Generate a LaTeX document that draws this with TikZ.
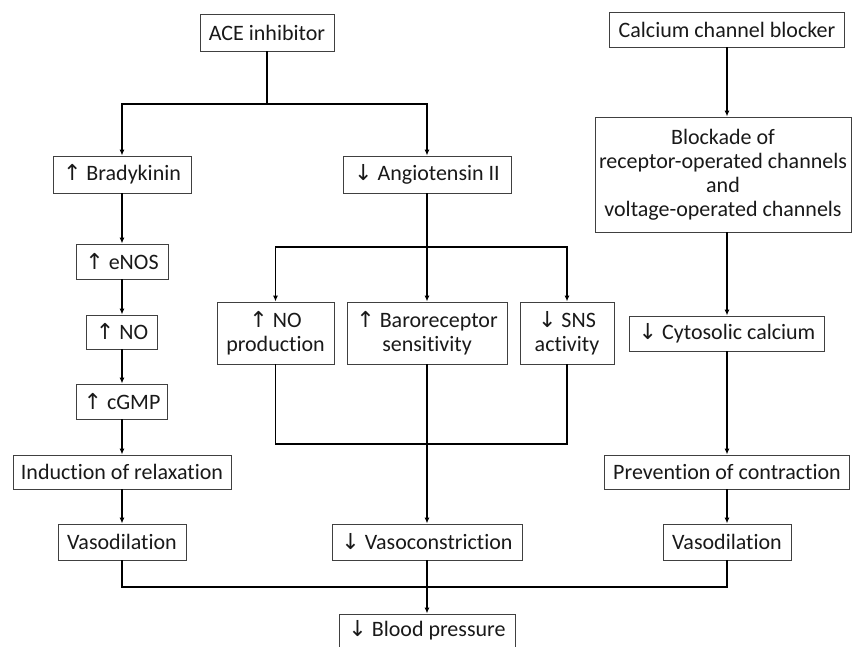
\documentclass[tikz,border=0pt]{standalone}
\usepackage{fontspec}
\setmainfont{Carlito}[Ligatures=NoCommon]
\newfontfamily\panahfont{DejaVu Sans}
\usetikzlibrary{arrows.meta}
\newcommand{\naik}{{\panahfont\char"2191}}
\newcommand{\turun}{{\panahfont\char"2193}}

\begin{document}
\begin{tikzpicture}[
    x=1pt, y=-1pt,
    font=\fontsize{22}{24}\selectfont,
    kotak/.style={draw=black!75, line width=0.9pt, align=center,
                  inner sep=2pt, text=black!90},
    garis/.style={line width=1.2pt},
    panah/.style={garis, -{Latex[length=6pt,width=5pt]}}
  ]
    \useasboundingbox (0,0) rectangle (852,646);
    % kolom ACE inhibitor
    \node[kotak, minimum width=134pt, minimum height=37pt] (ace) at (267,32.5) {ACE inhibitor};
    \node[kotak, minimum width=138pt, minimum height=37pt] (brady) at (122,174.5) {\naik\ Bradykinin};
    \node[kotak, minimum width=168pt, minimum height=37pt] (ang) at (427,174.5) {\turun\ Angiotensin II};
    \node[kotak, minimum width=92pt, minimum height=35pt] (enos) at (122,261.5) {\naik\ eNOS};
    \node[kotak, minimum width=71pt, minimum height=34pt] (no) at (122,332) {\naik\ NO};
    \node[kotak, minimum width=91pt, minimum height=35pt] (cgmp) at (122,401.5) {\naik\ cGMP};
    \node[kotak, minimum width=218pt, minimum height=34pt] (induksi) at (122,472) {Induction of relaxation};
    \node[kotak, minimum width=128pt, minimum height=36pt] (vasol) at (122,542) {Vasodilation};
    \node[kotak, minimum width=117pt, minimum height=62pt] (noprod) at (275.5,333) {\naik\ NO\\production};
    \node[kotak, minimum width=160pt, minimum height=62pt] (baro) at (427,333) {\naik\ Baroreceptor\\sensitivity};
    \node[kotak, minimum width=94pt, minimum height=62pt] (sns) at (567,333) {\turun\ SNS\\activity};
    \node[kotak, minimum width=190pt, minimum height=36pt] (vasoc) at (427,542) {\turun\ Vasoconstriction};
    \node[kotak, minimum width=176pt, minimum height=33pt] (bp) at (427,630.5) {\turun\ Blood pressure};
    % kolom calcium channel blocker
    \node[kotak, minimum width=235pt, minimum height=35pt] (ccb) at (727,29.5) {Calcium channel blocker};
    \node[kotak, minimum width=256pt, minimum height=115pt] (blokade) at (723,174.5)
      {Blockade of\\receptor-operated channels\\and\\voltage-operated channels};
    \node[kotak, minimum width=195pt, minimum height=35pt] (sito) at (727,333.5) {\turun\ Cytosolic calcium};
    \node[kotak, minimum width=245pt, minimum height=34pt] (prev) at (727,472) {Prevention of contraction};
    \node[kotak, minimum width=128pt, minimum height=36pt] (vasor) at (727,542) {Vasodilation};
    % titik cabang
    \coordinate (cabang1) at (267,104);
    \coordinate (cabang2) at (427,247);
    \coordinate (gabung1) at (427,444);
    \coordinate (gabung2) at (427,587);
    % penghubung
    \draw[garis] (ace) -- (cabang1);
    \draw[panah] (cabang1) -| (brady);
    \draw[panah] (cabang1) -| (ang);
    \draw[panah] (brady) -- (enos);
    \draw[panah] (enos) -- (no);
    \draw[panah] (no) -- (cgmp);
    \draw[panah] (cgmp) -- (induksi);
    \draw[panah] (induksi) -- (vasol);
    \draw[garis] (ang) -- (cabang2);
    \draw[panah] (cabang2) -| (noprod);
    \draw[panah] (cabang2) -| (sns);
    \draw[panah] (cabang2) -- (baro);
    \draw[garis] (noprod) |- (gabung1) -| (sns);
    \draw[panah] (baro) -- (vasoc);
    \draw[panah] (ccb) -- (ccb |- blokade.north);
    \draw[panah] (sito |- blokade.south) -- (sito);
    \draw[panah] (sito) -- (prev);
    \draw[panah] (prev) -- (vasor);
    \draw[garis] (vasol) |- (gabung2) -| (vasor);
    \draw[panah] (vasoc) -- (bp);
  \end{tikzpicture}
\end{document}
